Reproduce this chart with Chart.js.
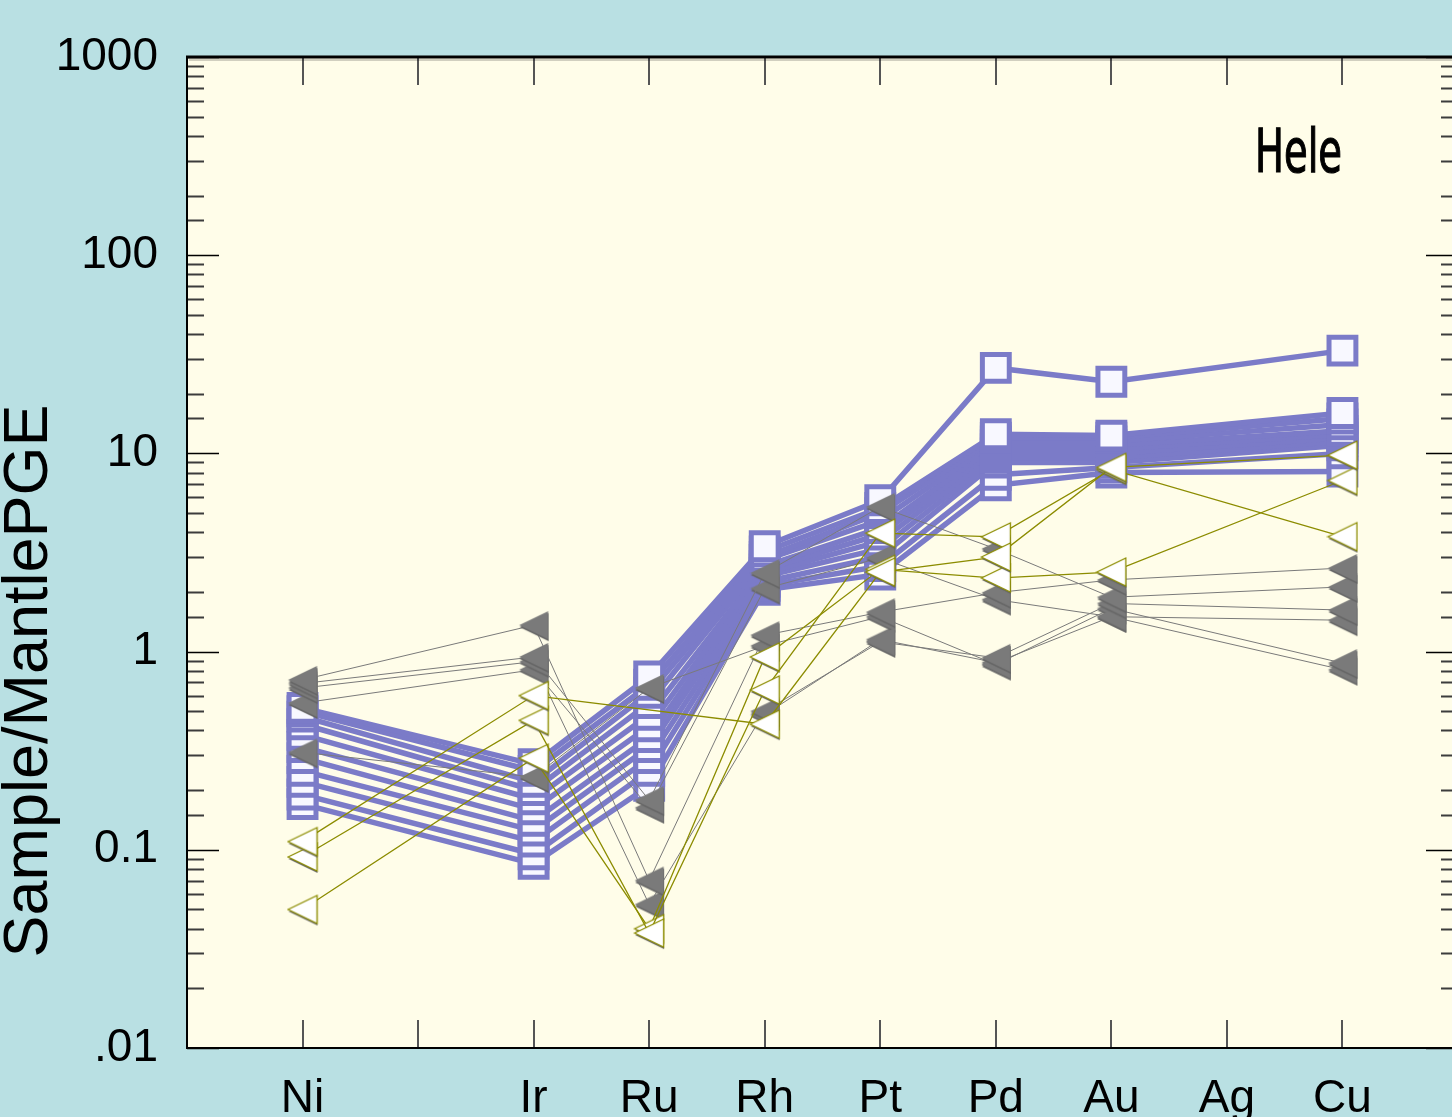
<!DOCTYPE html>
<html>
<head>
<meta charset="utf-8">
<title>Hele - Sample/MantlePGE</title>
<script src="https://cdn.jsdelivr.net/npm/chart.js@4.4.1/dist/chart.umd.min.js"></script>
<style>
    html, body { margin: 0; padding: 0; background: #b9e0e3; overflow: hidden; }
    #wrap { width: 1482px; height: 1117px; }
</style>
</head>
<body>
<div id="wrap"><canvas id="pgeChart" width="1482" height="1117"></canvas></div>
<script>
// Données du diagramme (Sample / Mantle PGE, échelle log)

// positions de l'axe x (les vides gardent les écarts du diagramme)
const axisLabels = ['\u200b', 'Ni', '\u200b\u200b', 'Ir', 'Ru', 'Rh', 'Pt', 'Pd', 'Au', 'Ag', 'Cu', '\u200b\u200b\u200b'];
// éléments mesurés pour chaque échantillon
const elements = ['Ni', 'Ir', 'Ru', 'Rh', 'Pt', 'Pd', 'Au', 'Cu'];
// étiquettes de l'axe y
const yLabelValues = [0.01, 0.1, 1, 10, 100, 1000];
const yLabelTexts = ['.01', '0.1', '1', '10', '100', '1000'];

const chartTitle = 'Hele';
const yTitle = 'Sample/MantlePGE';

// carrés bleus
const squareSamples = [
    [0.52, 0.27, 0.75, 3.4, 5.8, 27, 23, 33],
    [0.50, 0.25, 0.68, 3.2, 5.3, 12.5, 12.3, 16],
    [0.47, 0.22, 0.62, 3.0, 5.0, 12.0, 12.0, 15],
    [0.43, 0.20, 0.55, 2.9, 4.6, 11.5, 11.5, 14],
    [0.38, 0.18, 0.48, 2.7, 4.2, 11.0, 11.0, 13],
    [0.33, 0.16, 0.42, 2.6, 3.9, 10.5, 10.5, 12.5],
    [0.29, 0.14, 0.37, 2.5, 3.6, 10.0, 10.0, 12],
    [0.25, 0.125, 0.33, 2.4, 3.3, 9.5, 9.5, 11.5],
    [0.22, 0.11, 0.29, 2.25, 3.0, 9.0, 9.0, 11],
    [0.19, 0.095, 0.25, 2.15, 2.7, 7.8, 8.5, 10],
    [0.17, 0.085, 0.21, 2.05, 2.45, 6.9, 8.0, 8.1]
];

// triangles gris pleins
const filledTriangleSamples = [
    [0.72, 1.36, 0.07, 1.21, 1.58, 1.98, 2.3, 2.64],
    [0.69, 0.94, 0.178, 2.49, 5.37, 3.3, 1.88, 2.12],
    [0.655, 0.89, 0.053, 0.50, 1.12, 0.93, 1.75, 1.62],
    [0.55, 0.81, 0.163, 2.08, 2.97, 1.83, 1.5, 1.44],
    [0.31, 0.233, 0.655, 1.07, 1.5, 0.86, 1.65, 0.875],
    [null, null, null, 0.48, 1.15, 0.88, 1.5, 0.81]
];

// triangles blancs (contour olive)
const openTriangleSamples = [
    [0.11, 0.6, null, 0.43, 2.52, 3.0, 8.5, 9.8],
    [0.092, 0.45, 0.038, 0.64, 3.96, 3.79, 8.3, 3.8],
    [0.05, 0.29, 0.04, 0.94, 2.6, 2.35, 2.52, 7.3]
];

// Styles
const BLUE = '#7b7bc8';
const GRAY = '#7a7a7a';
const OLIVE = '#8c8c00';
const PLOT_BG = '#fffde9';
const FONT = '"Liberation Sans", Arial, sans-serif';

// Triangle pointant à gauche, dessiné une fois et réutilisé comme pointStyle
function makeTriangle(fill, stroke) {
    const c = document.createElement('canvas');
    c.width = 32;
    c.height = 36;
    const g = c.getContext('2d');
    const path = (dx, dy) => {
        g.beginPath();
        g.moveTo(1.5 + dx, 18 + dy);
        g.lineTo(30.5 + dx, 4 + dy);
        g.lineTo(30.5 + dx, 32 + dy);
        g.closePath();
    };
    path(0.5, 2);
    g.fillStyle = '#666666';
    g.fill();
    path(0, 0);
    g.fillStyle = fill;
    g.fill();
    if (stroke) {
        g.strokeStyle = stroke;
        g.lineWidth = 1.3;
        g.stroke();
    }
    return c;
}

const grayTriangle = makeTriangle(GRAY, null);
const whiteTriangle = makeTriangle('#ffffff', OLIVE);

function toPoints(values) {
    const pts = [];
    values.forEach((v, i) => {
        if (v !== null) pts.push({ x: elements[i], y: v });
    });
    return pts;
}

const datasets = [];
openTriangleSamples.forEach((s, i) => {
    datasets.push({
        label: 'open ' + (i + 1),
        data: toPoints(s),
        borderColor: OLIVE,
        borderWidth: 1.3,
        pointStyle: whiteTriangle,
        order: 1
    });
});
filledTriangleSamples.forEach((s, i) => {
    datasets.push({
        label: 'filled ' + (i + 1),
        data: toPoints(s),
        borderColor: GRAY,
        borderWidth: 1,
        pointStyle: grayTriangle,
        order: 2
    });
});
squareSamples.forEach((s, i) => {
    datasets.push({
        label: 'square ' + (i + 1),
        data: toPoints(s),
        borderColor: BLUE,
        borderWidth: 5.5,
        pointStyle: 'rect',
        pointRadius: 19,
        pointBorderWidth: 5,
        pointBorderColor: BLUE,
        pointBackgroundColor: '#f8f8ff',
        order: 3
    });
});

function isDecade(v) {
    const l = Math.log10(v);
    return Math.abs(l - Math.round(l)) < 1e-6;
}

// Cadre, graduations internes, titres
const framePlugin = {
    id: 'frame',
    beforeDatasetsDraw(chart) {
        const { ctx, chartArea: a } = chart;
        ctx.save();
        ctx.fillStyle = PLOT_BG;
        ctx.fillRect(a.left, a.top, a.right - a.left, a.bottom - a.top);

        // graduations y (gauche et droite)
        const ys = chart.scales.y;
        ys.ticks.forEach(t => {
            const py = Math.round(ys.getPixelForValue(t.value)) + 0.5;
            const major = isDecade(t.value);
            const len = major ? 32 : 17;
            ctx.strokeStyle = major ? '#000' : '#3c3c3c';
            ctx.lineWidth = major ? 1.5 : 2;
            ctx.beginPath();
            ctx.moveTo(a.left, py);
            ctx.lineTo(a.left + len, py);
            ctx.moveTo(a.right - len, py);
            ctx.lineTo(a.right, py);
            ctx.stroke();
        });

        // graduations x (haut et bas)
        const xs = chart.scales.x;
        ctx.strokeStyle = '#555';
        ctx.lineWidth = 2;
        for (let i = 1; i < axisLabels.length - 1; i++) {
            const px = Math.round(xs.getPixelForValue(i));
            ctx.beginPath();
            ctx.moveTo(px, a.top);
            ctx.lineTo(px, a.top + 28);
            ctx.moveTo(px, a.bottom);
            ctx.lineTo(px, a.bottom - 28);
            ctx.stroke();
        }
        ctx.restore();
    },
    afterDatasetsDraw(chart) {
        const { ctx, chartArea: a } = chart;
        ctx.save();
        ctx.strokeStyle = '#000';
        // bord haut épais avec une ombre légère
        ctx.lineWidth = 3;
        ctx.beginPath();
        ctx.moveTo(a.left - 1, a.top);
        ctx.lineTo(a.right, a.top);
        ctx.stroke();
        ctx.strokeStyle = 'rgba(0,0,0,0.18)';
        ctx.lineWidth = 2;
        ctx.beginPath();
        ctx.moveTo(a.left + 2, a.top + 3);
        ctx.lineTo(a.right, a.top + 3);
        ctx.stroke();
        ctx.strokeStyle = '#000';
        ctx.lineWidth = 2;
        ctx.beginPath();
        ctx.moveTo(a.left, a.top);
        ctx.lineTo(a.left, a.bottom);
        ctx.lineTo(a.right, a.bottom);
        ctx.lineTo(a.right, a.top);
        ctx.stroke();

        // titre de l'axe y
        ctx.fillStyle = '#000';
        ctx.font = '63px ' + FONT;
        ctx.textAlign = 'center';
        ctx.textBaseline = 'middle';
        ctx.translate(30, 681);
        ctx.rotate(-Math.PI / 2);
        ctx.fillText(yTitle, 0, 0);
        ctx.restore();

        // titre "Hele" en police étroite
        ctx.save();
        ctx.fillStyle = '#000';
        ctx.font = '60px "Liberation Sans Narrow", "DejaVu Sans Condensed", sans-serif';
        ctx.textAlign = 'left';
        ctx.textBaseline = 'alphabetic';
        const w = ctx.measureText(chartTitle).width;
        ctx.translate(1255, 172);
        ctx.scale(87 / w, 1);
        ctx.lineWidth = 1.2;
        ctx.strokeStyle = '#000';
        ctx.fillText(chartTitle, 0, 0);
        ctx.strokeText(chartTitle, 0, 0);
        ctx.restore();
    }
};

new Chart(document.getElementById('pgeChart').getContext('2d'), {
    type: 'line',
    data: { labels: axisLabels, datasets: datasets },
    options: {
        responsive: false,
        animation: false,
        layout: { padding: { left: 0, right: 13, top: 57, bottom: 0 } },
        elements: {
            line: { tension: 0 },
            point: { radius: 15, hoverRadius: 15, borderWidth: 0 }
        },
        scales: {
            x: {
                type: 'category',
                offset: false,
                grid: { display: false, drawTicks: false },
                border: { display: false },
                ticks: {
                    autoSkip: false,
                    maxRotation: 0,
                    padding: 24,
                    color: '#000',
                    font: { family: FONT, size: 46 }
                },
                afterFit(scale) {
                    scale.height = 69;
                    scale.paddingLeft = 0;
                    scale.paddingRight = 0;
                }
            },
            y: {
                type: 'logarithmic',
                min: 0.01,
                max: 1000,
                grid: { display: false, drawTicks: false },
                border: { display: false },
                ticks: {
                    autoSkip: false,
                    padding: 29,
                    color: '#000',
                    font: { family: FONT, size: 46 },
                    callback(value) {
                        const i = yLabelValues.findIndex(v => Math.abs(v - value) / v < 1e-6);
                        return i >= 0 ? yLabelTexts[i] : '';
                    }
                },
                afterFit(scale) {
                    scale.width = 187;
                    scale.paddingTop = 0;
                    scale.paddingBottom = 0;
                }
            }
        },
        plugins: {
            legend: { display: false },
            tooltip: { enabled: false }
        }
    },
    plugins: [framePlugin]
});
</script>
</body>
</html>
